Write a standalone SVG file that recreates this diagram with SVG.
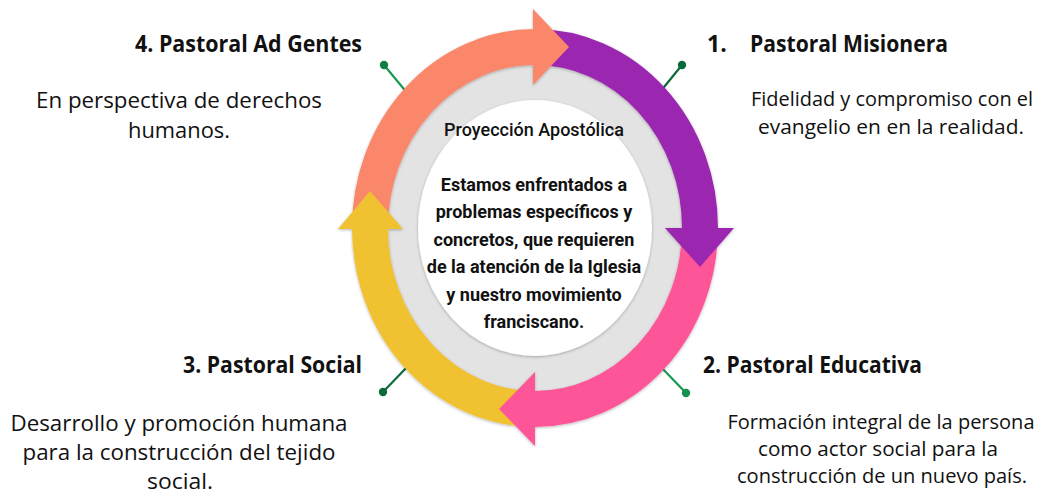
<svg xmlns="http://www.w3.org/2000/svg" width="1041" height="494" viewBox="0 0 1041 494">
<defs>
<style>
.title{font-family:"Open Sans","Liberation Sans",sans-serif;font-weight:700;font-size:23px;fill:#111}
.body{font-family:"Open Sans","Liberation Sans",sans-serif;font-size:22px;fill:#111;text-anchor:middle}
.small{font-size:20px}
.ctitle{font-family:Roboto,"Liberation Sans",sans-serif;font-weight:500;font-size:18px;fill:#111;text-anchor:middle}
.cbody{font-family:Roboto,"Liberation Sans",sans-serif;font-weight:700;font-size:18px;fill:#111;text-anchor:middle}
.band{fill:none;stroke-width:36}
.lead{stroke-width:2.2;fill:none}
</style>
<filter id="sh" x="-20%" y="-20%" width="140%" height="140%">
<feDropShadow dx="0" dy="1" stdDeviation="1.6" flood-color="#000" flood-opacity="0.28"/>
</filter>
</defs>
<rect width="1041" height="494" fill="#fff"/>

<g id="center">
<ellipse cx="535" cy="228" rx="152" ry="167" fill="#E3E3E3"/>
<ellipse cx="535" cy="228" rx="117" ry="128" fill="#fff" filter="url(#sh)"/>
<text class="ctitle" x="534" y="136">Proyección Apostólica</text>
<text class="cbody" x="534" y="191">Estamos enfrentados a</text>
<text class="cbody" x="534" y="218">problemas específicos y</text>
<text class="cbody" x="534" y="246">concretos, que requieren</text>
<text class="cbody" x="534" y="273">de la atención de la Iglesia</text>
<text class="cbody" x="534" y="301">y nuestro movimiento</text>
<text class="cbody" x="534" y="328">franciscano.</text>
</g>

<g id="connectors">
<line class="lead" x1="384" y1="65" x2="408" y2="94" stroke="#169A52"/>
<circle cx="384" cy="65" r="4.2" fill="#117F44"/>
<line class="lead" x1="682" y1="65" x2="660" y2="92" stroke="#0B6B3A"/>
<circle cx="682" cy="65" r="4.2" fill="#0B6B3A"/>
<line class="lead" x1="383" y1="392" x2="408" y2="366" stroke="#0D6B3A"/>
<circle cx="383" cy="392" r="4.2" fill="#0D6B3A"/>
<line class="lead" x1="686" y1="393" x2="660" y2="366" stroke="#169A52"/>
<circle cx="686" cy="393" r="4.2" fill="#16904D"/>
</g>

<g id="cycle" filter="url(#sh)">
<path class="band" stroke="#FA876B" d="M370 228 A165 181 0 0 1 535 47"/>
<path class="band" stroke="#9B27AF" d="M535 47 A165 181 0 0 1 700 228"/>
<path class="band" stroke="#FD5598" d="M700 228 A165 181 0 0 1 535 409"/>
<path class="band" stroke="#F0C232" d="M535 409 A165 181 0 0 1 370 228"/>
<polygon fill="#FA876B" points="533,9 533,85 569,47"/>
<polygon fill="#9B27AF" points="665,228 734,228 700,267"/>
<polygon fill="#FD5598" points="535,372 535,446 499,409"/>
<polygon fill="#F0C232" points="338,229 403,229 370,191"/>
</g>

<g id="n4">
<text class="title" x="135" y="52" textLength="227" lengthAdjust="spacingAndGlyphs">4. Pastoral Ad Gentes</text>
<text class="body" x="179" y="108" textLength="286" lengthAdjust="spacingAndGlyphs">En perspectiva de derechos</text>
<text class="body" x="179" y="138" textLength="102" lengthAdjust="spacingAndGlyphs">humanos.</text>
</g>
<g id="n1">
<text class="title" x="707" y="52">1.</text>
<text class="title" x="750" y="52" textLength="198" lengthAdjust="spacingAndGlyphs">Pastoral Misionera</text>
<text class="body small" x="892" y="106" textLength="282" lengthAdjust="spacingAndGlyphs">Fidelidad y compromiso con el</text>
<text class="body small" x="891" y="134" textLength="266" lengthAdjust="spacingAndGlyphs">evangelio en en la realidad.</text>
</g>
<g id="n3">
<text class="title" x="183" y="373" textLength="179" lengthAdjust="spacingAndGlyphs">3. Pastoral Social</text>
<text class="body" x="179" y="431" textLength="337" lengthAdjust="spacingAndGlyphs">Desarrollo y promoción humana</text>
<text class="body" x="179" y="460" textLength="313" lengthAdjust="spacingAndGlyphs">para la construcción del tejido</text>
<text class="body" x="180" y="489" textLength="66" lengthAdjust="spacingAndGlyphs">social.</text>
</g>
<g id="n2">
<text class="title" x="703" y="373" textLength="219" lengthAdjust="spacingAndGlyphs">2. Pastoral Educativa</text>
<text class="body small" x="881" y="429" textLength="307" lengthAdjust="spacingAndGlyphs">Formación integral de la persona</text>
<text class="body small" x="878" y="456" textLength="240" lengthAdjust="spacingAndGlyphs">como actor social para la</text>
<text class="body small" x="882" y="483" textLength="290" lengthAdjust="spacingAndGlyphs">construcción de un nuevo país.</text>
</g>
</svg>
